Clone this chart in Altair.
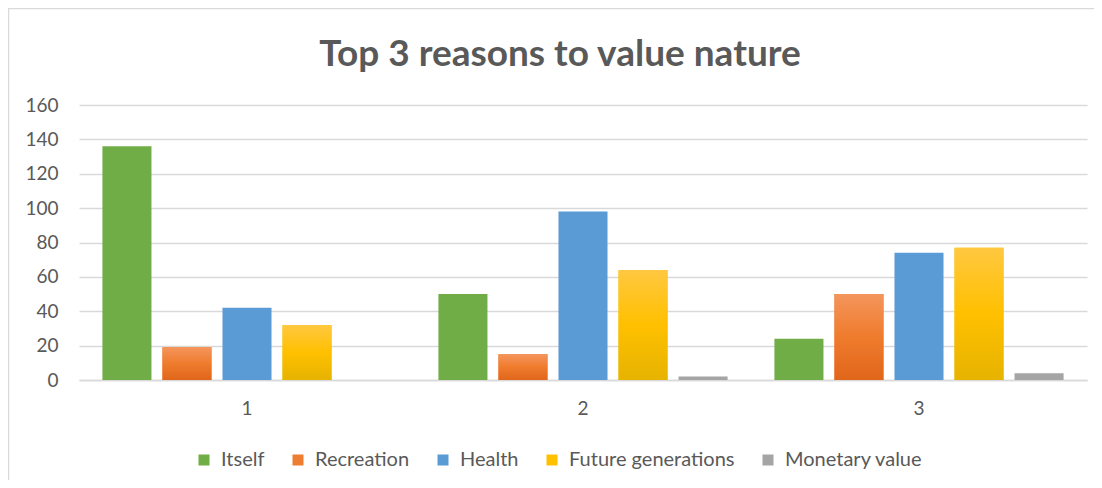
import altair as alt
import pandas as pd

periods = ["1", "2", "3"]
series = ["Itself", "Recreation", "Health", "Future generations", "Monetary value"]
itself = [136, 50, 24]
recreation = [19, 15, 50]
health = [42, 98, 74]
future = [32, 64, 77]
monetary = [0, 2, 4]
colors = ["#70AD47", "#ED7D31", "#5B9BD5", "#FFC000", "#A5A5A5"]
y_ticks = [0, 20, 40, 60, 80, 100, 120, 140, 160]
title_text = "Top 3 reasons to value nature"

rows = []
for name, vals in zip(series, [itself, recreation, health, future, monetary]):
    for p, v in zip(periods, vals):
        rows.append({"period": p, "series": name, "value": v})
df = pd.DataFrame(rows)

FONT = "Lato"
TXT = "#595959"

x_enc = alt.X(
    "period:N",
    sort=periods,
    scale=alt.Scale(paddingInner=0, paddingOuter=0),
    axis=alt.Axis(title=None, labelAngle=0, ticks=False, domainColor="#d9d9d9",
                  domainWidth=1.5, labelPadding=19, labelFontSize=19,
                  labelColor=TXT, labelFont=FONT),
)
xo_enc = alt.XOffset(
    "series:N", sort=series,
    scale=alt.Scale(domain=series, paddingInner=0.183, paddingOuter=0.39),
)
y_enc = alt.Y(
    "value:Q",
    scale=alt.Scale(domain=[0, 160], nice=False),
    axis=alt.Axis(title=None, values=y_ticks, ticks=False, domain=False,
                  gridColor="#d9d9d9", gridWidth=1.5, labelPadding=21,
                  labelFontSize=19, labelColor=TXT, labelFont=FONT),
)

base = alt.Chart(df)

bars = base.mark_bar().encode(
    x=x_enc, xOffset=xo_enc, y=y_enc,
    color=alt.Color(
        "series:N", sort=series,
        scale=alt.Scale(domain=series, range=colors),
        legend=alt.Legend(title=None, orient="none", direction="horizontal",
                          legendX=115, legendY=345, columns=5,
                          symbolType="square", symbolSize=121, symbolStrokeWidth=0,
                          labelFont=FONT, labelFontSize=20, labelColor=TXT,
                          labelLimit=400, labelOffset=7, columnPadding=23),
    ),
)

grad_orange = alt.Gradient(
    gradient="linear",
    stops=[alt.GradientStop(color="#F4955C", offset=0),
           alt.GradientStop(color="#EF7B2D", offset=0.5),
           alt.GradientStop(color="#E0661A", offset=1)],
    x1=0, x2=0, y1=0, y2=1,
)
grad_yellow = alt.Gradient(
    gradient="linear",
    stops=[alt.GradientStop(color="#FFC840", offset=0),
           alt.GradientStop(color="#FFC000", offset=0.5),
           alt.GradientStop(color="#E6B300", offset=1)],
    x1=0, x2=0, y1=0, y2=1,
)

orange = base.mark_bar(color=grad_orange).encode(
    x=x_enc, xOffset=xo_enc, y=y_enc
).transform_filter(alt.datum.series == "Recreation")

yellow = base.mark_bar(color=grad_yellow).encode(
    x=x_enc, xOffset=xo_enc, y=y_enc
).transform_filter(alt.datum.series == "Future generations")

frame = alt.Chart(pd.DataFrame({"a": [0]})).mark_rect(
    fillOpacity=0, stroke="#d9d9d9", strokeWidth=1.5
).encode(
    x=alt.value(-70.5), x2=alt.value(1040),
    y=alt.value(-96.5), y2=alt.value(420),
)

chart = alt.layer(frame, bars, orange, yellow).properties(
    width=1008,
    height=275,
    autosize=alt.AutoSizeParams(type="none"),
    padding={"left": 71, "top": 97, "right": 7, "bottom": 100},
    title=alt.TitleParams(title_text, font=FONT, fontSize=37, fontWeight="bold",
                          color=TXT, anchor="middle", dx=-23, offset=-66),
).configure_view(strokeWidth=0)

chart.save("out.html", embed_options={"renderer": "svg", "actions": False})
